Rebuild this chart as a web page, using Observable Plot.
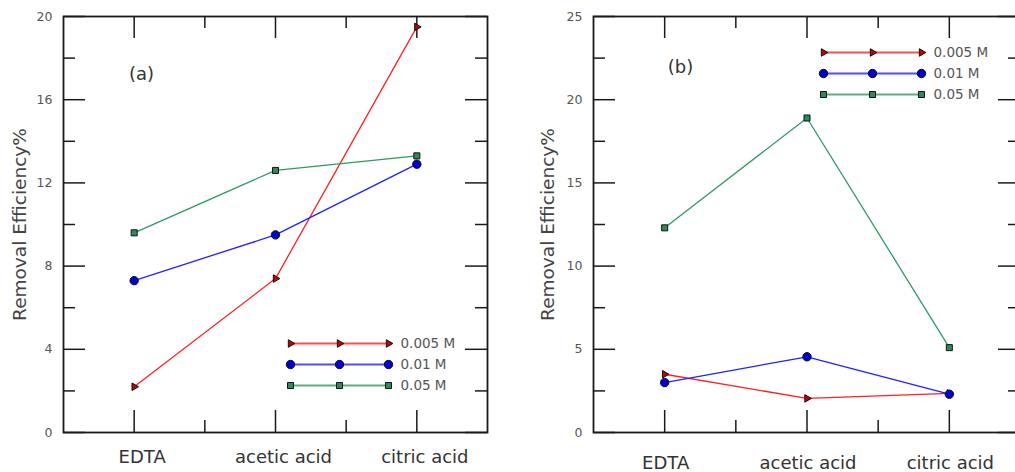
<!DOCTYPE html>
<html>
<head>
<meta charset="utf-8">
<script src="https://cdn.jsdelivr.net/npm/d3@7"></script>
<script src="https://cdn.jsdelivr.net/npm/@observablehq/plot@0.6"></script>
<style>
  html, body { margin: 0; padding: 0; background: #fff; }
  #wrap { position: relative; width: 1015px; height: 472px; overflow: hidden; background: #fff; }
  #wrap > div, #wrap > svg { position: absolute; }
  svg { font-family: "DejaVu Sans", "Liberation Sans", Arial, sans-serif; overflow: visible; }
</style>
</head>
<body>
<div id="wrap"></div>
<script>
// ---------- data ----------
const categories = ["EDTA", "acetic acid", "citric acid"];
const concentrations = ["0.005 M", "0.01 M", "0.05 M"];

// panel (a)
const a_0005 = [2.2, 7.4, 19.5];
const a_001 = [7.3, 9.5, 12.9];
const a_005 = [9.6, 12.6, 13.3];
// panel (b)
const b_0005 = [3.5, 2.05, 2.35];
const b_001 = [3.0, 4.55, 2.3];
const b_005 = [12.3, 18.9, 5.1];

const yMajorA = [0, 4, 8, 12, 16, 20];
const yMinorA = [2, 6, 10, 14, 18];
const yMajorB = [0, 5, 10, 15, 20, 25];
const yMinorB = [2.5, 7.5, 12.5, 17.5, 22.5];
const xMajor = [1, 2, 3];
const xMinor = [1.5, 2.5];

const lineColors = ["#ff2020", "#2020ff", "#2f9a62"];
const markerFills = ["#c40000", "#0000d0", "#2e8b57"];
const symbols = ["triangle", "circle", "square"];
const rotations = [90, 0, 0];
const markerR = [2.8, 4.2, 3.4];

function toRows(series) {
  return series.flatMap((vals, s) => vals.map((v, i) => ({
    cat: categories[i], xi: i + 1, value: v, conc: concentrations[s], s
  })));
}

function panel({series, yMax, yMajor, yMinor, width, marginLeft, marginRight, tag, tagDx, tagDy, titleDx, xPad, xDx}) {
  const height = 472, marginTop = 16, marginBottom = 40;
  const plotW = width - marginLeft - marginRight;
  const plotH = height - marginTop - marginBottom;
  const rows = toRows(series);
  const tickStroke = "#1a1a1a";
  const major = 22, minor = 12;
  return Plot.plot({
    width, height, marginLeft, marginRight, marginTop, marginBottom,
    x: {domain: [0.5, 3.5]},
    y: {domain: [0, yMax]},
    color: {domain: concentrations, range: lineColors},
    marks: [
      // inward ticks on four sides
      Plot.ruleY(yMajor, {y: d => d, stroke: tickStroke, strokeWidth: 1.5, insetRight: plotW - major}),
      Plot.ruleY(yMajor, {y: d => d, stroke: tickStroke, strokeWidth: 1.5, insetLeft: plotW - major}),
      Plot.ruleY(yMinor, {y: d => d, stroke: tickStroke, strokeWidth: 1.5, insetRight: plotW - minor}),
      Plot.ruleY(yMinor, {y: d => d, stroke: tickStroke, strokeWidth: 1.5, insetLeft: plotW - minor}),
      Plot.ruleX(xMajor, {x: d => d, stroke: tickStroke, strokeWidth: 1.5, insetBottom: plotH - major}),
      Plot.ruleX(xMajor, {x: d => d, stroke: tickStroke, strokeWidth: 1.5, insetTop: plotH - major}),
      Plot.ruleX(xMinor, {x: d => d, stroke: tickStroke, strokeWidth: 1.5, insetBottom: plotH - minor}),
      Plot.ruleX(xMinor, {x: d => d, stroke: tickStroke, strokeWidth: 1.5, insetTop: plotH - minor}),
      Plot.frame({stroke: tickStroke, strokeWidth: 1.8}),
      Plot.axisY(yMajor, {anchor: "left", tickSize: 0, tickPadding: 11, fontSize: 12.5, color: "#555", label: null}),
      Plot.axisX(xMajor, {anchor: "bottom", tickSize: 0, tickPadding: xPad, dx: xDx, fontSize: 18, color: "#333",
        tickFormat: d => categories[d - 1], label: null}),
      Plot.text(["Removal Efficiency%"], {frameAnchor: "left", rotate: -90, dx: titleDx, fontSize: 18.5,
        textAnchor: "middle", lineAnchor: "middle", fill: "#444"}),
      Plot.text([tag], {frameAnchor: "top-left", dx: tagDx, dy: tagDy, fontSize: 18,
        textAnchor: "middle", lineAnchor: "middle", fill: "#333"}),
      Plot.line(rows, {x: "xi", y: "value", z: "conc", stroke: "conc", strokeWidth: 1.3}),
      ...[0, 1, 2].map(s => Plot.dot(rows.filter(d => d.s === s), {
        x: "xi", y: "value", symbol: symbols[s], r: markerR[s], rotate: rotations[s],
        fill: markerFills[s], stroke: "#111", strokeWidth: 1
      }))
    ]
  });
}

function legend() {
  const pts = [0, 1, 2];
  const rows = concentrations.flatMap((c, s) => pts.map(p => ({conc: c, p, s})));
  return Plot.plot({
    width: 190, height: 59, marginLeft: 8, marginRight: 84, marginTop: 8, marginBottom: 8,
    x: {domain: [0, 2], axis: null},
    y: {domain: concentrations, type: "point", padding: 0, axis: null},
    color: {domain: concentrations, range: lineColors},
    marks: [
      Plot.ruleY(concentrations, {y: d => d, x1: 0, x2: 2, stroke: d => d, strokeWidth: 1.8, strokeOpacity: 0.8}),
      ...[0, 1, 2].map(s => Plot.dot(rows.filter(d => d.s === s), {
        x: "p", y: "conc", symbol: symbols[s], r: markerR[s], rotate: rotations[s],
        fill: markerFills[s], stroke: "#111", strokeWidth: 1
      })),
      Plot.text(concentrations, {x: 2, y: d => d, text: d => d, dx: 12, textAnchor: "start", fontSize: 13.5, fill: "#555"})
    ]
  });
}

const wrap = document.getElementById("wrap");

const pa = panel({series: [a_0005, a_001, a_005], yMax: 20, yMajor: yMajorA, yMinor: yMinorA,
  width: 505, marginLeft: 63, marginRight: 18, tag: "(a)", tagDx: 78, tagDy: 58, titleDx: -43, xPad: 18, xDx: 8});
pa.style.left = "0px"; pa.style.top = "0px";
wrap.appendChild(pa);

const pb = panel({series: [b_0005, b_001, b_005], yMax: 25, yMajor: yMajorB, yMinor: yMinorB,
  width: 530, marginLeft: 88, marginRight: 15, tag: "(b)", tagDx: 87, tagDy: 51, titleDx: -45, xPad: 24, xDx: 1});
pb.style.left = "505px"; pb.style.top = "0px";
wrap.appendChild(pb);

const la = legend();
la.style.left = "282px"; la.style.top = "334px";
wrap.appendChild(la);

const lb = legend();
lb.style.left = "815px"; lb.style.top = "43px";
wrap.appendChild(lb);
</script>
</body>
</html>
